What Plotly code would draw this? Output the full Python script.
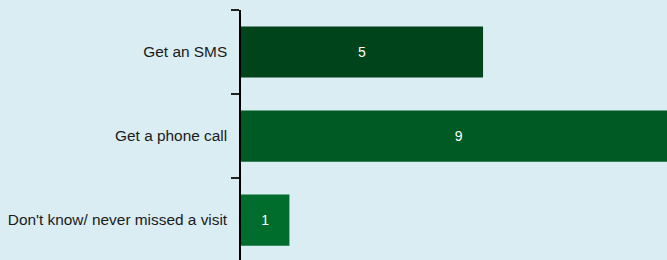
import plotly.graph_objects as go

categories = ["Get an SMS", "Get a phone call", "Don't know/ never missed a visit"]
values = [5, 9, 1]
colors = ["#00441b", "#005a24", "#006d2c"]

fig = go.Figure(go.Bar(
    y=categories, x=values, orientation="h",
    marker=dict(color=colors, line=dict(width=0)),
    text=[str(v) for v in values], textposition="inside", insidetextanchor="middle",
    textfont=dict(color="white", size=14, family="Liberation Sans, Arial, sans-serif"),
    hoverinfo="skip",
))

fig.update_layout(
    width=667, height=260,
    margin=dict(l=241, r=0, t=10, b=0),
    paper_bgcolor="#daedf3", plot_bgcolor="#daedf3",
    bargap=0.39,
    showlegend=False,
    font=dict(family="Liberation Sans, Arial, sans-serif", size=15.4, color="#1a1a1a"),
)
fig.update_xaxes(range=[0, 8.8], visible=False, fixedrange=True)
fig.update_yaxes(
    type="category", range=[2.476, -0.5],
    showline=True, linecolor="#000", linewidth=1.5,
    ticks="outside", tickson="boundaries", ticklen=8, tickcolor="#222", tickwidth=1.5,
    ticklabelstandoff=9,
    showgrid=False, zeroline=False, fixedrange=True,
)

fig.write_html("out.html", config={"displayModeBar": False},
               post_script="document.body.style.margin='0';document.body.style.background='#daedf3';")
